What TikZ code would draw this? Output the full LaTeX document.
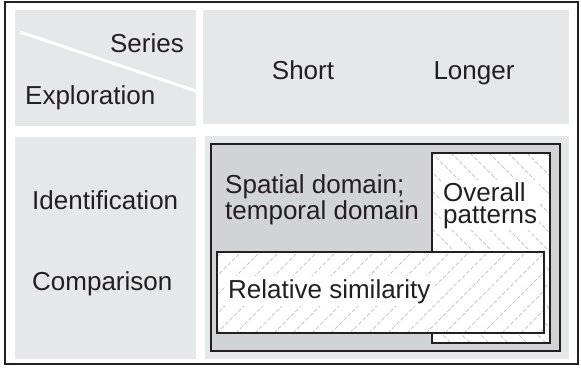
\documentclass[tikz,border=0pt]{standalone}
\usepackage{fontspec}
\setmainfont{Liberation Sans}
\definecolor{cellgray}{HTML}{E6E7E8}
\definecolor{boxgray}{HTML}{D1D3D4}
\definecolor{ink}{HTML}{231F20}
\definecolor{hatchgray}{HTML}{C8C8C8}
\tikzset{
  cell/.style={fill=cellgray},
  box/.style={draw=ink, line width=2.5pt},
  hatchline/.style={draw=hatchgray, line width=0.8pt, dash pattern=on 4pt off 2pt},
  lbl/.style={text=ink, font=\fontsize{26}{22}\selectfont, inner sep=0pt},
}
\begin{document}
\begin{tikzpicture}[x=1pt,y=-1pt]
    \useasboundingbox (0,0) rectangle (581,367);
    % table cells
    \fill[cell] (15,10) rectangle (196,126);
    \fill[cell] (203,10) rectangle (569,124);
    \fill[cell] (15,137) rectangle (196,359);
    \fill[cell] (205,136) rectangle (569,359);
    \draw[white, line width=3pt] (20,32) -- (196,91);
    \draw[ink, line width=2pt] (5,1.5) rectangle (578,364);
    % grey box
    \draw[box, fill=boxgray] (211,144) rectangle (560,351);
    % overall patterns
    \coordinate (P1) at (432,153);
    \coordinate (P2) at (550,343);
    \fill[white] (P1) rectangle (P2);
    \begin{scope}
        \clip (P1) rectangle (P2);
        \foreach \k in {-11,...,7}
            \draw[hatchline] (432+\k*19,153) -- ++(200,200);
    \end{scope}
    \draw[box] (P1) rectangle (P2);
    % relative similarity
    \coordinate (R1) at (217,252);
    \coordinate (R2) at (544,333);
    \fill[white] (R1) rectangle (R2);
    \begin{scope}
        \clip (R1) rectangle (R2);
        \foreach \k in {-6,...,18}
            \draw[hatchline] (217+\k*19,333) -- ++(90,-90);
    \end{scope}
    \draw[box] (R1) rectangle (R2);
    % labels (two-line nodes sit on their last baseline)
    \node[lbl, anchor=base east] (series) at (184,52) {Series};
    \node[lbl, anchor=base west] (explo) at (25,104) {Exploration};
    \node[lbl, anchor=base] (short) at (303,79) {Short};
    \node[lbl, anchor=base] (longer) at (474,79) {Longer};
    \node[lbl, anchor=base west] (ident) at (32,209) {Identification};
    \node[lbl, anchor=base west] (comp) at (32,290) {Comparison};
    \node[lbl, anchor=base west, align=left] (spatial) at (225,219) {Spatial domain;\\temporal domain};
    \node[lbl, anchor=base west, align=left, fill=white, inner sep=2pt] (overall) at (441,223) {Overall\\patterns};
    \node[lbl, anchor=base west, fill=white, inner sep=3pt] (relsim) at (225,298) {Relative similarity};
\end{tikzpicture}
\end{document}
